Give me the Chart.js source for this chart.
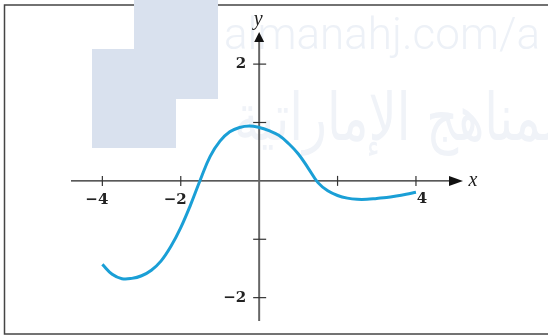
<!DOCTYPE html>
<html>
<head>
<meta charset="utf-8">
<script src="https://cdn.jsdelivr.net/npm/chart.js@4.4.1/dist/chart.umd.min.js"></script>
<style>
  html, body { margin: 0; padding: 0; background: #fff; }
</style>
</head>
<body>
<canvas id="graph" width="548" height="336"></canvas>
<script>
// curve every quarter unit
const curveX = [-4, -3.75, -3.5, -3.25, -3, -2.75, -2.5, -2.25, -2, -1.75, -1.5, -1.25, -1, -0.75, -0.5, -0.25,
                0, 0.25, 0.5, 0.75, 1, 1.25, 1.5, 1.75, 2, 2.25, 2.5, 2.75, 3, 3.25, 3.5, 3.75, 4];
const curveY = [-1.43, -1.60, -1.675, -1.67, -1.625, -1.53, -1.37, -1.12, -0.80, -0.41, 0.02, 0.42, 0.68, 0.84, 0.915, 0.94,
                0.915, 0.86, 0.78, 0.64, 0.46, 0.22, -0.03, -0.17, -0.25, -0.295, -0.315, -0.315, -0.30, -0.285, -0.26, -0.23, -0.195];

const xTicks = [-4, -2, 2, 4];
const xTickLabels = ["\u22124", "\u22122", "", "4"];
const yTicks = [-2, -1, 1, 2];
const yTickLabels = ["\u22122", "", "", "2"];
const axisNames = ["x", "y"];
const watermarkUrl = "almanahj.com/a";
const watermarkArabic = "المناهج الإماراتية";

const points = curveX.map((x, i) => ({ x: x, y: curveY[i] }));

const backdropPlugin = {
    id: "backdrop",
    beforeDraw(chart) {
        const ctx = chart.ctx;
        ctx.save();
        ctx.fillStyle = "#fff";
        ctx.fillRect(0, 0, chart.width, chart.height);

        // frame round the figure
        ctx.strokeStyle = "#444";
        ctx.lineWidth = 1.5;
        ctx.strokeRect(4.5, 5, 600, 329);

        // watermark blocks
        ctx.fillStyle = "#d9e1ee";
        ctx.fillRect(134, 0, 84, 99);
        ctx.fillRect(92, 49, 84, 99);

        // watermark text
        ctx.fillStyle = "#edf1f7";
        ctx.font = "300 44px Roboto";
        ctx.textBaseline = "alphabetic";
        ctx.textAlign = "left";
        ctx.fillText(watermarkUrl, 224, 49);

        ctx.save();
        ctx.translate(234, 140);
        ctx.scale(0.75, 1);
        ctx.fillStyle = "#f0f3f8";
        ctx.font = "66px 'DejaVu Sans'";
        ctx.direction = "rtl";
        ctx.textAlign = "left";
        ctx.fillText(watermarkArabic, 0, 0);
        ctx.restore();
        ctx.restore();
    },
    beforeDatasetsDraw(chart) {
        const ctx = chart.ctx;
        const xs = chart.scales.x;
        const ys = chart.scales.y;
        const x0 = xs.getPixelForValue(0);
        const y0 = ys.getPixelForValue(0);
        ctx.save();

        // x axis with arrow
        ctx.strokeStyle = "#222";
        ctx.lineWidth = 1.4;
        ctx.beginPath();
        ctx.moveTo(xs.left, y0);
        ctx.lineTo(xs.right - 10, y0);
        ctx.stroke();
        ctx.fillStyle = "#111";
        ctx.beginPath();
        ctx.moveTo(xs.right, y0);
        ctx.lineTo(xs.right - 14, y0 - 5);
        ctx.lineTo(xs.right - 14, y0 + 5);
        ctx.closePath();
        ctx.fill();

        // y axis with arrow
        ctx.strokeStyle = "#666";
        ctx.lineWidth = 2;
        ctx.beginPath();
        ctx.moveTo(x0, ys.bottom);
        ctx.lineTo(x0, ys.top + 8);
        ctx.stroke();
        ctx.beginPath();
        ctx.moveTo(x0, ys.top);
        ctx.lineTo(x0 - 5, ys.top + 10);
        ctx.lineTo(x0 + 5, ys.top + 10);
        ctx.closePath();
        ctx.fill();

        // tick marks and labels
        ctx.strokeStyle = "#333";
        ctx.lineWidth = 1.2;
        ctx.font = "bold 15px 'DejaVu Serif'";
        ctx.textBaseline = "middle";
        ctx.fillStyle = "#222";
        xTicks.forEach((v, i) => {
            const px = xs.getPixelForValue(v);
            ctx.beginPath();
            ctx.moveTo(px, y0 - 5);
            ctx.lineTo(px, y0 + 5);
            ctx.stroke();
            if (v < 0) {
                ctx.textAlign = "right";
                ctx.fillText(xTickLabels[i], px + 6, y0 + 19);
            } else {
                ctx.textAlign = "center";
                ctx.fillText(xTickLabels[i], px + 6, y0 + 18);
            }
        });
        yTicks.forEach((v, i) => {
            const py = ys.getPixelForValue(v);
            ctx.beginPath();
            ctx.moveTo(x0 - 6, py);
            ctx.lineTo(x0 + 7, py);
            ctx.stroke();
            ctx.textAlign = "right";
            ctx.fillText(yTickLabels[i], x0 - 13, py);
        });

        // axis names
        ctx.font = "italic 20px 'Liberation Serif'";
        ctx.textAlign = "center";
        ctx.fillText(axisNames[0], 473, y0);
        ctx.fillText(axisNames[1], x0 - 1, 20);
        ctx.restore();
    }
};

new Chart(document.getElementById("graph").getContext("2d"), {
    type: "line",
    data: {
        datasets: [{
            data: points,
            borderColor: "#1a9fd6",
            borderWidth: 3,
            pointRadius: 0,
            fill: false,
            tension: 0.4,
        }],
    },
    options: {
        responsive: false,
        animation: false,
        layout: { padding: { left: 71, right: 85, top: 32, bottom: 15 } },
        scales: {
            x: { type: "linear", min: -4.8, max: 5.2, display: false },
            y: { type: "linear", min: -2.4, max: 2.55, display: false },
        },
        plugins: {
            legend: { display: false },
            tooltip: { enabled: false },
        },
    },
    plugins: [backdropPlugin],
});
</script>
</body>
</html>
